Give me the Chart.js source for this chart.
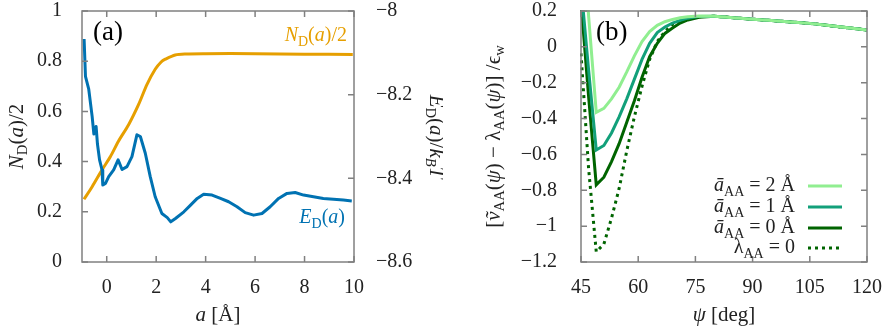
<!DOCTYPE html>
<html>
<head>
<meta charset="utf-8">
<script src="https://cdn.jsdelivr.net/npm/chart.js@4.4.0/dist/chart.umd.min.js"></script>
<style>
body{margin:0;background:#fff;}
#wrap{position:relative;width:886px;height:330px;}
#ca{position:absolute;left:0;top:0;}
#cb{position:absolute;left:443px;top:0;}
</style>
</head>
<body>
<div id="wrap">
<canvas id="ca" width="443" height="330"></canvas>
<canvas id="cb" width="443" height="330"></canvas>
</div>
<script>
// panel (a)
var aOrange = [-0.92,-0.59,-0.19,0.15,0.48,0.89,1.29,1.63,1.96,2.2,2.37,2.77,3.2,4,6,8,9.95];
var nHalf = [0.25,0.30,0.367,0.42,0.482,0.548,0.628,0.708,0.768,0.797,0.808,0.825,0.829,0.83,0.83,0.828,0.827];
var aBlue = [-0.915,-0.86,-0.73,-0.59,-0.52,-0.43,-0.375,-0.29,-0.19,-0.16,-0.05,0.08,0.28,0.46,0.62,0.82,1.02,1.22,1.36,1.56,1.76,1.96,2.23,2.45,2.59,2.78,3.12,3.39,3.66,3.92,4.26,4.6,4.93,5.27,5.6,5.94,6.28,6.61,6.95,7.29,7.62,7.96,8.36,8.76,9.17,9.57,9.91];
var eD = [-8.067,-8.156,-8.186,-8.252,-8.294,-8.276,-8.318,-8.356,-8.380,-8.416,-8.412,-8.396,-8.380,-8.356,-8.379,-8.372,-8.348,-8.296,-8.300,-8.340,-8.396,-8.444,-8.484,-8.494,-8.504,-8.496,-8.48,-8.464,-8.448,-8.438,-8.44,-8.448,-8.456,-8.468,-8.482,-8.488,-8.484,-8.468,-8.448,-8.436,-8.434,-8.44,-8.444,-8.448,-8.45,-8.452,-8.454];
var aTicks = [0,2,4,6,8,10];
var nTicks = [0,0.2,0.4,0.6,0.8,1];
var eTicks = [-8.6,-8.4,-8.2,-8];

// panel (b)
var psi = [45,47,49,51,53,55,57,59,61,63,65,67,69,71,73,76,80,85,90,95,100,105,110,115,120];
var v2A = [0.9,0.17,-0.365,-0.343,-0.29,-0.225,-0.14,-0.05,0.03,0.085,0.12,0.14,0.153,0.162,0.168,0.172,0.171,0.163,0.154,0.147,0.139,0.131,0.119,0.106,0.094];
var v1A = [0.34,-0.13,-0.575,-0.55,-0.48,-0.39,-0.29,-0.18,-0.07,0.02,0.08,0.11,0.133,0.148,0.16,0.17,0.171,0.163,0.154,0.147,0.139,0.131,0.119,0.106,0.094];
var v0A = [0.253,-0.279,-0.77,-0.727,-0.64,-0.54,-0.42,-0.3,-0.17,-0.055,0.02,0.075,0.105,0.133,0.15,0.165,0.171,0.163,0.154,0.147,0.139,0.131,0.119,0.106,0.094];
var vLam0 = [-0.036,-0.68,-1.143,-1.10,-0.956,-0.79,-0.58,-0.39,-0.22,-0.07,0.03,0.085,0.125,0.145,0.158,0.168,0.171,0.163,0.154,0.147,0.139,0.131,0.119,0.106,0.094];
var psiTicks = [45,60,75,90,105,120];
var vTicks = [-1.2,-1,-0.8,-0.6,-0.4,-0.2,0,0.2];

var FAM = "'Liberation Serif', 'DejaVu Serif', serif";
var TXT = '#222';

function pts(xs, ys){
	return xs.map(function(x,i){ return {x:x, y:ys[i]}; });
}
function minus(v){
	return String(v).replace('-', '\u2212');
}

// draws text made of pieces: n normal, i italic, s subscript, si italic subscript
function rich(ctx, parts, x, y, size, color, align, rot){
	ctx.save();
	ctx.translate(x, y);
	ctx.rotate(rot || 0);
	ctx.fillStyle = color;
	ctx.textBaseline = 'middle';
	ctx.textAlign = 'left';
	function fontOf(k){
		var sub = (k == 's' || k == 'si');
		var it = (k == 'i' || k == 'si') ? 'italic ' : '';
		return it + (sub ? size*0.7 : size) + 'px ' + FAM;
	}
	var w = 0;
	for (var i=0;i<parts.length;i++){
		ctx.font = fontOf(parts[i][1]);
		w += ctx.measureText(parts[i][0]).width;
	}
	var cx = align == 'right' ? -w : (align == 'left' ? 0 : -w/2);
	for (var j=0;j<parts.length;j++){
		var k = parts[j][1];
		ctx.font = fontOf(k);
		var dy = (k == 's' || k == 'si') ? size*0.3 : 0;
		ctx.fillText(parts[j][0], cx, dy);
		cx += ctx.measureText(parts[j][0]).width;
	}
	ctx.restore();
}

function drawFrame(chart, mirror){
	var ctx = chart.ctx, a = chart.chartArea, L = 6;
	ctx.save();
	ctx.strokeStyle = '#808080';
	ctx.lineWidth = 1.5;
	ctx.setLineDash([]);
	ctx.strokeRect(a.left, a.top, a.right - a.left, a.bottom - a.top);
	ctx.beginPath();
	var sx = chart.scales.x;
	sx.ticks.forEach(function(t){
		var px = sx.getPixelForValue(t.value);
		ctx.moveTo(px, a.bottom); ctx.lineTo(px, a.bottom - L);
		ctx.moveTo(px, a.top); ctx.lineTo(px, a.top + L);
	});
	var sy = chart.scales.y;
	sy.ticks.forEach(function(t){
		var py = sy.getPixelForValue(t.value);
		ctx.moveTo(a.left, py); ctx.lineTo(a.left + L, py);
		if (mirror) { ctx.moveTo(a.right, py); ctx.lineTo(a.right - L, py); }
	});
	if (chart.scales.y2) {
		var s2 = chart.scales.y2;
		s2.ticks.forEach(function(t){
			var py = s2.getPixelForValue(t.value);
			ctx.moveTo(a.right, py); ctx.lineTo(a.right - L, py);
		});
	}
	ctx.stroke();
	ctx.restore();
}

function fixTicks(vals){
	return function(s){ s.ticks = vals.map(function(v){ return {value:v}; }); };
}
// fixed box size, and no extra room for labels hanging past the plot edges
function fitBox(w, h){
	return function(s){
		if (w) s.width = w;
		if (h) s.height = h;
		s.paddingTop = 0; s.paddingBottom = 0;
		s.paddingLeft = 0; s.paddingRight = 0;
	};
}
function tickFont(){
	return {family: FAM, size: 20, lineHeight: 1};
}

// ---------- panel (a)
var chartA = new Chart(document.getElementById('ca'), {
	type: 'line',
	data: {
		datasets: [{
			label: 'E_D(a)',
			data: pts(aBlue, eD),
			yAxisID: 'y2',
			borderColor: '#0072B2',
			borderWidth: 3,
			pointRadius: 0,
			borderJoinStyle: 'round',
			tension: 0
		},{
			label: 'N_D(a)/2',
			data: pts(aOrange, nHalf),
			yAxisID: 'y',
			borderColor: '#E69F00',
			borderWidth: 3,
			pointRadius: 0,
			tension: 0.3
		}]
	},
	options: {
		responsive: false,
		animation: false,
		layout: {padding: {top: 11, left: 0, right: 0, bottom: 0}},
		plugins: {legend: {display: false}, tooltip: {enabled: false}},
		scales: {
			x: {
				type: 'linear', min: -1, max: 10,
				grid: {display: false}, border: {display: false},
				afterBuildTicks: fixTicks(aTicks),
				afterFit: fitBox(0, 68),
				ticks: {font: tickFont(), color: TXT, padding: 8, maxRotation: 0}
			},
			y: {
				position: 'left', min: 0, max: 1,
				grid: {display: false}, border: {display: false},
				afterBuildTicks: fixTicks(nTicks),
				afterFit: fitBox(82, 0),
				ticks: {font: tickFont(), color: TXT, padding: 12, callback: minus}
			},
			y2: {
				position: 'right', min: -8.6, max: -8,
				grid: {display: false}, border: {display: false},
				afterBuildTicks: fixTicks(eTicks),
				afterFit: fitBox(89, 0),
				ticks: {font: tickFont(), color: TXT, padding: 14, callback: minus}
			}
		}
	},
	plugins: [{
		id: 'deco',
		afterDraw: function(chart){
			var ctx = chart.ctx, a = chart.chartArea;
			drawFrame(chart, false);
			rich(ctx, [['(a)','n']], a.left + 11, 33, 27, '#000', 'left');
			rich(ctx, [['N','i'],['D','s'],['(','n'],['a','i'],[')/2','n']], a.right - 7, 36, 20, '#E69F00', 'right');
			rich(ctx, [['E','i'],['D','s'],['(','n'],['a','i'],[')','n']], a.right - 9, 218, 20, '#0072B2', 'right');
			var cy = (a.top + a.bottom) / 2;
			rich(ctx, [['N','i'],['D','s'],['(','n'],['a','i'],[')/2','n']], 17, cy, 21, TXT, 'center', -Math.PI/2);
			rich(ctx, [['E','i'],['D','s'],['(','n'],['a','i'],[')/','n'],['k','i'],['B','si'],['T','i']], 436, cy, 21, TXT, 'center', Math.PI/2);
			rich(ctx, [['a','i'],[' [Å]','n']], (a.left + a.right)/2, 315, 21, TXT, 'center');
		}
	}]
});

// ---------- panel (b)
var rowsB = [
	[['ā','i'],['AA','s'],[' = 2 Å','n']],
	[['ā','i'],['AA','s'],[' = 1 Å','n']],
	[['ā','i'],['AA','s'],[' = 0 Å','n']],
	[['λ','n'],['AA','s'],[' = 0','n']]
];
function lineSet(label, ys, color, dash){
	return {
		label: label,
		data: pts(psi, ys),
		borderColor: color,
		borderWidth: 3,
		borderDash: dash || [],
		pointRadius: 0,
		tension: 0,
		clip: 1
	};
}
var chartB = new Chart(document.getElementById('cb'), {
	type: 'line',
	data: {
		datasets: [
			lineSet('a_AA = 2 A', v2A, '#90EE90'),
			lineSet('a_AA = 1 A', v1A, '#12A07A'),
			lineSet('a_AA = 0 A', v0A, '#006400'),
			lineSet('lambda_AA = 0', vLam0, '#006400', [3, 4])
		]
	},
	options: {
		responsive: false,
		animation: false,
		layout: {padding: {top: 11, left: 0, right: 19, bottom: 0}},
		plugins: {legend: {display: false}, tooltip: {enabled: false}},
		scales: {
			x: {
				type: 'linear', min: 45, max: 120,
				grid: {display: false}, border: {display: false},
				afterBuildTicks: fixTicks(psiTicks),
				afterFit: fitBox(0, 68),
				ticks: {font: tickFont(), color: TXT, padding: 8, maxRotation: 0}
			},
			y: {
				position: 'left', min: -1.2, max: 0.2,
				grid: {display: false}, border: {display: false},
				afterBuildTicks: fixTicks(vTicks),
				afterFit: fitBox(138, 0),
				ticks: {font: tickFont(), color: TXT, padding: 16, callback: minus}
			}
		}
	},
	plugins: [{
		id: 'deco',
		afterDraw: function(chart){
			var ctx = chart.ctx, a = chart.chartArea;
			drawFrame(chart, true);
			rich(ctx, [['(b)','n']], a.left + 15, 33, 27, '#000', 'left');
			var cy = (a.top + a.bottom) / 2;
			rich(ctx, [['[','n'],['ṽ','i'],['AA','s'],['(','n'],['ψ','i'],[') − ','n'],['λ','n'],['AA','s'],['(','n'],['ψ','i'],[')] /','n'],['ϵ','n'],['w','s']], 51, cy, 21, TXT, 'center', -Math.PI/2);
			rich(ctx, [['ψ','i'],[' [deg]','n']], (a.left + a.right)/2, 315, 21, TXT, 'center');
			// legend
			var rowY = [186, 207, 228, 248];
			chart.data.datasets.forEach(function(ds, i){
				rich(ctx, rowsB[i], 352, rowY[i], 20, TXT, 'right');
				ctx.save();
				ctx.strokeStyle = ds.borderColor;
				ctx.lineWidth = 3;
				ctx.setLineDash(ds.borderDash);
				ctx.beginPath();
				ctx.moveTo(365, rowY[i]);
				ctx.lineTo(399, rowY[i]);
				ctx.stroke();
				ctx.restore();
			});
		}
	}]
});
</script>
</body>
</html>
